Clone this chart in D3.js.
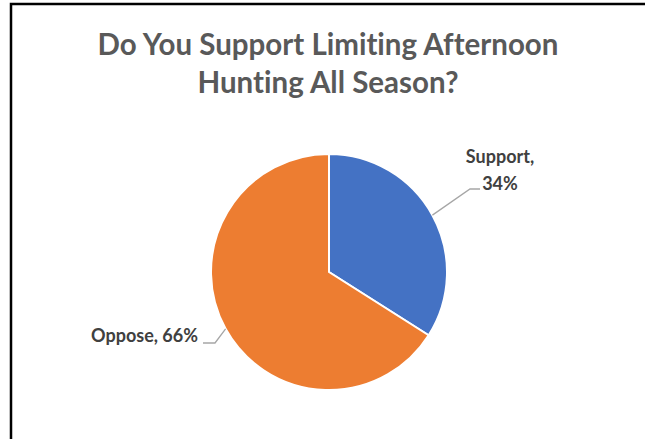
<!DOCTYPE html>
<html>
<head>
<meta charset="utf-8">
<script src="https://cdn.jsdelivr.net/npm/d3@7"></script>
<style>
  html, body { margin: 0; padding: 0; background: #fff; }
  svg { display: block; }
  text { font-variant-ligatures: none; font-feature-settings: "liga" 0; }
</style>
</head>
<body>
<svg id="chart" width="645" height="439"></svg>
<script>
// Survey responses
const categories = ["Support", "Oppose"];
const values = [34, 66];
const colors = ["#4472C4", "#ED7D31"];
const titleLines = ["Do You Support Limiting Afternoon", "Hunting All Season?"];

const svg = d3.select("#chart");
const W = 645, H = 439;

// Chart frame (runs off the right and bottom edges)
svg.append("path")
  .attr("d", `M11,${H + 5} L11,4 L${W + 5},4`)
  .attr("fill", "none")
  .attr("stroke", "#000")
  .attr("stroke-width", 2.5);

// Title
svg.append("g").selectAll("text")
  .data(titleLines)
  .join("text")
  .attr("x", 328)
  .attr("y", (d, i) => 55 + i * 38)
  .attr("text-anchor", "middle")
  .attr("font-family", "Lato, 'Open Sans', sans-serif")
  .attr("font-weight", "bold")
  .attr("font-size", 29.5)
  .attr("fill", "#595959")
  .text(d => d);

const cx = 329, cy = 272, r = 118;
const data = categories.map((c, i) => ({ category: c, value: values[i], color: colors[i] }));

const pie = d3.pie().value(d => d.value).sort(null);
const arc = d3.arc().innerRadius(0).outerRadius(r);
const arcs = pie(data);

const g = svg.append("g").attr("transform", `translate(${cx},${cy})`);
g.selectAll("path")
  .data(arcs)
  .join("path")
  .attr("d", arc)
  .attr("fill", d => d.data.color)
  .attr("stroke", "#fff")
  .attr("stroke-width", 2);

// Leader lines start on the rim at each slice's mid-angle
const rimPoint = a => {
  const mid = (a.startAngle + a.endAngle) / 2;
  return [cx + r * Math.sin(mid), cy - r * Math.cos(mid)];
};
const labelFont = "Lato, 'Open Sans', sans-serif";
const leader = pts => svg.append("polyline")
  .attr("points", pts.map(p => p.join(",")).join(" "))
  .attr("fill", "none")
  .attr("stroke", "#A6A6A6")
  .attr("stroke-width", 1.3);

// Support label
{
  const a = arcs[0];
  leader([rimPoint(a), [470, 189], [480, 189]]);
  const t = svg.append("text")
    .attr("font-family", labelFont)
    .attr("font-weight", "bold")
    .attr("font-size", 18)
    .attr("fill", "#404040")
    .attr("text-anchor", "middle");
  t.append("tspan").attr("x", 500).attr("y", 163).text(a.data.category + ",");
  t.append("tspan").attr("x", 500).attr("y", 190).text(a.data.value + "%");
}

// Oppose label
{
  const a = arcs[1];
  leader([rimPoint(a), [215, 343], [203, 343]]);
  svg.append("text")
    .attr("x", 198)
    .attr("y", 342)
    .attr("text-anchor", "end")
    .attr("font-family", labelFont)
    .attr("font-weight", "bold")
    .attr("font-size", 18)
    .attr("fill", "#404040")
    .text(`${a.data.category}, ${a.data.value}%`);
}
</script>
</body>
</html>
